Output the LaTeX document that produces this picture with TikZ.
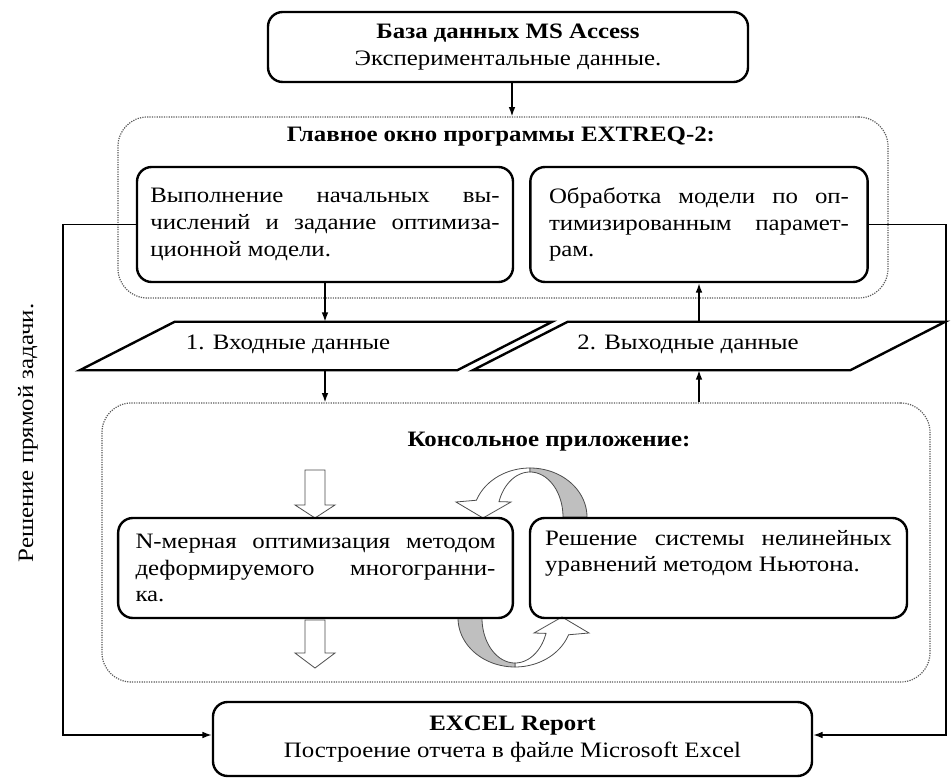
\documentclass[tikz,border=0pt]{standalone}
\usepackage{fontspec}
\setmainfont{Liberation Serif}[FakeStretch=1.13]
\usetikzlibrary{arrows.meta,calc}
\newcommand\twistarrow{%
  \draw[band] plot[domain=200:270, samples=24, variable=\t] ({530+57*cos(\t)},{517+49*sin(\t)})
    -- plot[domain=270:200, samples=24, variable=\t] ({530+33*cos(\t)},{517+45*sin(\t)})
    -- (511,502) -- (483,518) -- (456,502) -- cycle;
  \draw[shade] plot[domain=270:360, samples=24, variable=\t] ({530+57*cos(\t)},{517+49*sin(\t)})
    -- plot[domain=360:270, samples=24, variable=\t] ({530+33*cos(\t)},{517+45*sin(\t)}) -- cycle;
}
\begin{document}
\begin{tikzpicture}[x=0.75pt,y=-0.75pt,
  every node/.style={font=\fontsize{16.5pt}{20pt}\selectfont},
  titletext/.style={font=\fontsize{16.5pt}{20pt}\selectfont\bfseries},
  box/.style={draw, line width=1.8pt, rounded corners=11pt, inner ysep=0pt, align=justify},
  cont/.style={draw=black!65, line width=0.9pt, dash pattern=on 0.9pt off 0.9pt, rounded corners=22pt, inner sep=0pt},
  conn/.style={line width=1.1pt, -{Latex[length=7pt,width=5pt]}},
  para/.style={line width=1.8pt, line join=miter},
  hollow/.style={draw=black!70, line width=0.6pt, fill=white},
  band/.style={draw=black!70, line width=0.6pt, fill=white},
  shade/.style={draw=black!70, line width=0.6pt, fill=black!25},
]
\useasboundingbox (0,0) rectangle (951,781);

% top box
\node[box, align=center, minimum width=360pt, minimum height=52.5pt] (T) at (508,47)
  {\textbf{База данных MS Access}\\ Экспериментальные данные.};

% main window container
\node[cont, minimum width=577.5pt, minimum height=135.75pt] (C1) at (503,207.5) {};
\node[titletext] (C1t) at (501,137) {Главное окно программы EXTREQ-2:};

\node[box, text width=262pt, inner xsep=10pt, minimum height=86.25pt] (L1) at (325,224.5)
  {Выполнение начальных вы-\linebreak числений и задание оптимиза-\linebreak ционной модели.};
\node[box, text width=225pt, inner xsep=14pt, minimum height=86.25pt] (R1) at (699,224.5)
  {Обработка модели по оп-\linebreak тимизированным парамет-\linebreak рам.};

% data parallelograms
\node[minimum width=282.75pt, minimum height=36pt, inner sep=0pt] (P1) at (316,346) {};
\draw[para] ($(P1.south west)+(-47.5,0)$) -- ($(P1.north west)+(47.5,0)$)
  -- ($(P1.north east)+(47.5,0)$) -- ($(P1.south east)+(-47.5,0)$) -- cycle;
\node (P1t) at (288,344) {1. Входные данные};
\node[minimum width=282.75pt, minimum height=36pt, inner sep=0pt] (P2) at (709,346) {};
\draw[para] ($(P2.south west)+(-47.5,0)$) -- ($(P2.north west)+(47.5,0)$)
  -- ($(P2.north east)+(47.5,0)$) -- ($(P2.south east)+(-47.5,0)$) -- cycle;
\node (P2t) at (688,344) {2. Выходные данные};

% console container
\node[cont, minimum width=621pt, minimum height=209.25pt] (C2) at (516,542.5) {};
\node[titletext] (C2t) at (549,442) {Консольное приложение:};

% curved arrows
\twistarrow
\begin{scope}[rotate around={180:(522.5,567.5)}]
  \twistarrow
\end{scope}

% hollow block arrows
\draw[hollow] (305,470) -- (325,470) -- (325,505) -- (335,505) -- (315,518) -- (295,505) -- (305,505) -- cycle;
\draw[hollow] (305,620) -- (325,620) -- (325,653) -- (335,653) -- (315,668) -- (295,653) -- (305,653) -- cycle;

\node[box, text width=270pt, inner xsep=13pt, minimum height=75pt] (L2) at (315.5,568)
  {N-мерная оптимизация методом\linebreak деформируемого многогранни-\linebreak ка.};
\node[box, minimum width=282.75pt, minimum height=75pt, inner sep=0pt] (R2) at (718.5,568) {};
\node[anchor=north, text width=260pt, align=justify, inner sep=0pt] (R2t) at ($(R2.north)+(0,13)$)
  {Решение системы нелинейных\linebreak уравнений методом Ньютона.};

% bottom box
\node[box, align=center, minimum width=449.25pt, minimum height=55.5pt] (B) at (512.5,739)
  {\textbf{EXCEL Report}\\ Построение отчета в файле Microsoft Excel};

% side label
\node[rotate=90] (side) at (28,433) {Решение прямой задачи.};

% connectors
\coordinate (xa) at (512,0);
\coordinate (xl) at (63,0);
\coordinate (xr) at (946,0);
\coordinate (yb) at (0,735);
\draw[conn] (T.south -| xa) -- (C1.north -| xa);
\draw[conn] (L1.south) -- (L1.south |- P1.north);
\draw[conn] (L1.south |- P1.south) -- (L1.south |- C2.north);
\draw[conn] (R1.south |- C2.north) -- (R1.south |- P2.south);
\draw[conn] (R1.south |- P2.north) -- (R1.south);
\draw[conn] (L1.west) -- (L1.west -| xl) -- (xl |- yb) -- (B.west |- yb);
\draw[conn] (R1.east) -- (R1.east -| xr) -- (xr |- yb) -- (B.east |- yb);
\end{tikzpicture}
\end{document}
